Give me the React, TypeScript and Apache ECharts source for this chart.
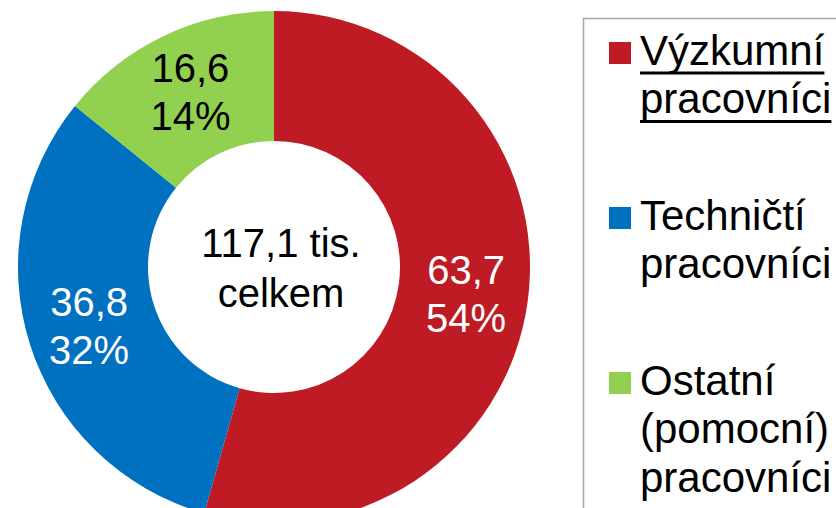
import React, { useEffect, useRef } from "react";
import * as echarts from "echarts";

const categories = ["Výzkumní pracovníci", "Techničtí pracovníci", "Ostatní (pomocní) pracovníci"];
const legendLines = [
  ["Výzkumní", "pracovníci"],
  ["Techničtí", "pracovníci"],
  ["Ostatní", "(pomocní)", "pracovníci"],
];
const values = [63.7, 36.8, 16.6];
const percentLabels = ["54%", "32%", "14%"];
const colors = ["#BE1B24", "#0070C0", "#92D050"];
const labelColors = ["#ffffff", "#ffffff", "#000000"];
const totalLines = ["117,1 tis.", "celkem"];

const FONT = '"Liberation Sans", Arial, Helvetica, sans-serif';

function measure(text: string, size: number): number {
  const c = document.createElement("canvas").getContext("2d");
  if (!c) return text.length * size * 0.5;
  c.font = `${size}px "Liberation Sans", Arial`;
  return c.measureText(text).width;
}

export default function App() {
  const ref = useRef<HTMLDivElement>(null);
  useEffect(() => {
    if (!ref.current) return;
    const chart = echarts.init(ref.current, undefined, { renderer: "svg" });

    const legendFont = 42;
    const legendLH = 48.5;
    const legendElems: any[] = [];
    legendElems.push({
      type: "rect",
      shape: { x: 583.5, y: 18.5, width: 400, height: 600 },
      style: { fill: "#ffffff", stroke: "#a6a6a6", lineWidth: 1.5 },
      z: 1,
    });
    legendLines.forEach((lines, i) => {
      const base = 65 + 165 * i;
      legendElems.push({
        type: "rect",
        shape: { x: 609, y: base - 23, width: 22, height: 22 },
        style: { fill: colors[i] },
        z: 2,
      });
      lines.forEach((t, j) => {
        const bl = base + legendLH * j;
        legendElems.push({
          type: "text",
          x: 640,
          y: bl - 0.35 * legendFont,
          style: {
            text: t,
            font: `${legendFont}px ${FONT}`,
            fill: "#000000",
            align: "left",
            verticalAlign: "middle",
          },
          z: 2,
        });
        if (i === 0) {
          const w = measure(t, legendFont);
          legendElems.push({
            type: "line",
            shape: { x1: 640, y1: bl + 8, x2: 640 + w, y2: bl + 8 },
            style: { stroke: "#000000", lineWidth: 3 },
            z: 2,
          });
        }
      });
    });

    chart.setOption({
      animation: false,
      backgroundColor: "#ffffff",
      series: [
        {
          type: "pie",
          center: [274, 267],
          radius: [126, 256],
          startAngle: 90,
          clockwise: true,
          avoidLabelOverlap: false,
          silent: true,
          itemStyle: { borderWidth: 0 },
          label: {
            show: true,
            position: "inside",
            fontSize: 40,
            lineHeight: 48,
            fontFamily: FONT,
            align: "center",
          },
          labelLine: { show: false },
          data: categories.map((name, i) => ({
            name,
            value: values[i],
            itemStyle: { color: colors[i] },
            label: {
              color: labelColors[i],
              formatter: `${values[i].toFixed(1).replace(".", ",")}\n${percentLabels[i]}`,
            },
          })),
        },
      ],
      graphic: [
        {
          type: "text",
          x: 281,
          y: 268,
          style: {
            text: totalLines.join("\n"),
            font: `40px ${FONT}`,
            lineHeight: 50,
            fill: "#000000",
            align: "center",
            verticalAlign: "middle",
          },
          z: 10,
        },
        ...legendElems,
      ],
    });
    return () => chart.dispose();
  }, []);
  return (
    <div
      ref={ref}
      style={{ position: "fixed", left: 0, top: 0, width: 836, height: 508, background: "#fff" }}
    />
  );
}
